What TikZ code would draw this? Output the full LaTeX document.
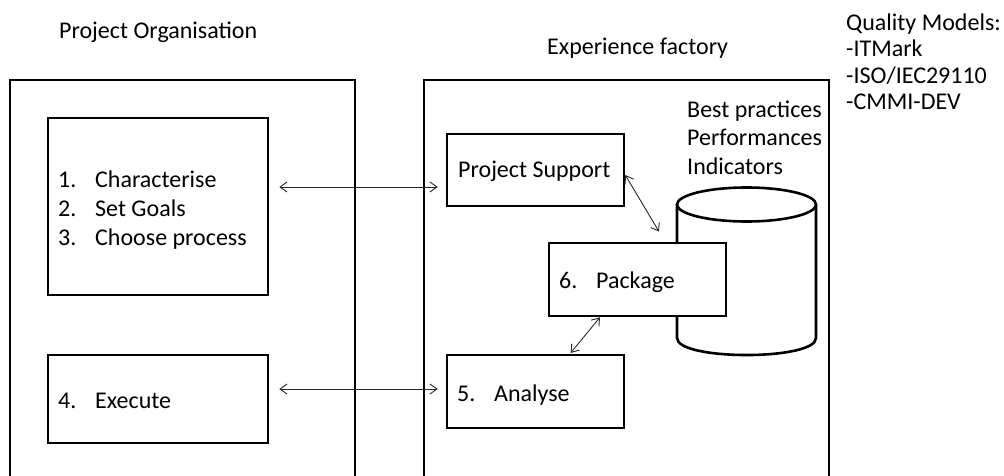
\documentclass[tikz,border=0pt]{standalone}
\usepackage{fontspec}
\setmainfont{Carlito}
\usetikzlibrary{arrows.meta}
\tikzset{
  boxline/.style={draw=black, line width=2.6pt, fill=white, inner sep=0pt},
  txt/.style={inner sep=0pt, anchor=base west, align=left, font=\fontsize{24pt}{29pt}\selectfont},
  qtxt/.style={inner sep=0pt, anchor=base west, align=left, font=\fontsize{24pt}{26.3pt}\selectfont},
  conn/.style={draw=black!85, line width=0.9pt, {Straight Barb[length=7pt,width=10pt]}-{Straight Barb[length=7pt,width=10pt]}}
}
\newcommand{\numitem}[2]{\makebox[37pt][l]{#1}#2}
\begin{document}
\begin{tikzpicture}[x=1pt,y=-1pt]
\useasboundingbox (0,0) rectangle (1004,476);
\clip (0,0) rectangle (1004,476);
% outer boxes
\node[boxline, fill=none, minimum width=345pt, minimum height=410pt] (po) at (182.5,285) {};
\node[boxline, fill=none, minimum width=405pt, minimum height=410pt] (ef) at (626.5,285) {};
% headings (multi-line nodes are anchored at the baseline of their last line)
\node[txt] (tpo) at (59,39) {Project Organisation};
\node[txt] (tef) at (547,55) {Experience factory};
\node[qtxt] (tqm) at (846,109.4) {Quality Models:\\-ITMark\\-ISO/IEC29110\\-CMMI-DEV};
% cylinder
\draw[line width=2.6pt, fill=white] (677,204.5) -- (677,338) .. controls (677,360.7) and (816,360.7) .. (816,338) -- (816,204.5);
\draw[line width=2.6pt, fill=white] (746.5,204.5) ellipse [x radius=69.5, y radius=17];
\node[txt] (tdb) at (687,175) {Best practices\\Performances\\Indicators};
% inner boxes
\node[boxline, minimum width=220pt, minimum height=177pt] (b13) at (158,206.5) {};
\node[boxline, minimum width=220pt, minimum height=88pt] (b4) at (158,399) {};
\node[boxline, minimum width=177pt, minimum height=72pt] (ps) at (535.5,170) {};
\node[boxline, minimum width=177pt, minimum height=73pt] (pkg) at (637.5,279.5) {};
\node[boxline, minimum width=177pt, minimum height=73pt] (ana) at (535.5,391.5) {};
% box texts
\node[txt] (t13) at (58,245) {\numitem{1.}{Characterise}\\\numitem{2.}{Set Goals}\\\numitem{3.}{Choose process}};
\node[txt] (t4) at (58,408) {\numitem{4.}{Execute}};
\node[txt] (tps) at (458,178) {Project Support};
\node[txt] (tpkg) at (559,288) {\numitem{6.}{Package}};
\node[txt] (tana) at (457,401) {\numitem{5.}{Analyse}};
% connectors
\draw[conn, shorten <=10pt, shorten >=8pt] (b13.east |- 0,187) -- (ps.west |- 0,187);
\draw[conn, shorten <=10pt, shorten >=8pt] (b4.east |- 0,389) -- (ana.west |- 0,389);
\draw[conn, shorten >=11.8pt] (ps.east |- 0,175) -- (pkg.north -| 665,0);
\draw[conn, shorten >=1pt] (pkg.south -| 600,0) -- (ana.north -| 570,0);
\end{tikzpicture}
\end{document}
